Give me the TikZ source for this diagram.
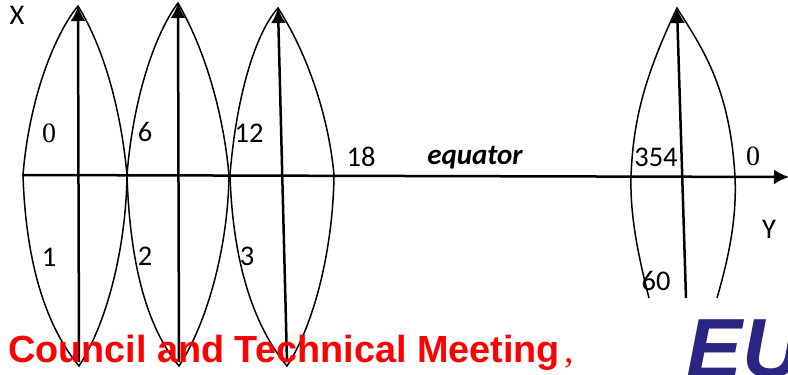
\documentclass[tikz,border=0pt]{standalone}
\usepackage{fontspec}
\setmainfont{Carlito}
\newfontfamily\serifdigits{Liberation Serif}
\newfontfamily\headfont{Liberation Sans}
\usetikzlibrary{arrows.meta}
\definecolor{meetingred}{RGB}{255,0,0}
\definecolor{logoblue}{RGB}{44,36,130}

\begin{document}
\begin{tikzpicture}[x=1pt,y=-1pt,
zone/.style={black,line width=1.5pt},
axis/.style={black,line width=2.5pt,-{Latex[length=15pt,width=15pt]}},
label/.style={inner sep=0pt,font=\fontsize{28.5}{28.5}\selectfont},
meeting/.style={inner sep=0pt,anchor=base west,text=meetingred,font=\headfont\bfseries\fontsize{37.8}{37.8}\selectfont}]
\useasboundingbox (0,0) rectangle (788,375);
% zones along the equator
\foreach \n/\xl/\xt/\yt/\xr/\xb/\yb in {a/23/78/6/127/79/366,b/127/178/3/229/179/366,c/230/278/8/334/287/366}{
  \coordinate (left\n) at (\xl,175);
  \coordinate (right\n) at (\xr,175);
  \coordinate (top\n) at (\xt,\yt);
  \coordinate (bottom\n) at (\xb,\yb);
  \coordinate (foot\n) at (\xb,\yb-4);
  \draw[zone] (left\n) .. controls (\xl+6,100) and (\xt-24,35) .. (top\n)
    .. controls (\xt+26,48) and (\xr-6,110) .. (right\n)
    .. controls (\xr-1,250) and (\xb+27,325) .. (bottom\n)
    .. controls (\xb-30,330) and (\xl+3,270) .. (left\n);
  \draw[axis] (foot\n) -- (top\n);
}
% last zone, cut off below
\coordinate (leftd) at (631,177);
\coordinate (rightd) at (735,177);
\coordinate (topd) at (677,8);
\coordinate (axisd) at (686,298);
\coordinate (footl) at (649,298);
\coordinate (footr) at (717,298);
\draw[zone] (footl) .. controls (638,255) and (630,215) .. (leftd)
  .. controls (633,120) and (645,75) .. (topd)
  .. controls (700,45) and (730,85) .. (rightd)
  .. controls (737,220) and (728,260) .. (footr);
\draw[axis] (axisd) -- (topd);
% equator
\coordinate (eqstart) at (22,175);
\coordinate (eqend) at (789,177);
\draw[axis] (eqstart) -- (eqend);
\node[label] (xlabel) at (17,15) {X};
\node[label] (ylabel) at (769,229) {Y};
\node[label,font=\serifdigits\fontsize{28}{28}\selectfont] (zeroa) at (49,133) {0};
\node[label] (six) at (145,132) {6};
\node[label] (twelve) at (249,133) {12};
\node[label] (eighteen) at (361,157) {18};
\node[label,font=\bfseries\itshape\fontsize{29}{29}\selectfont] (equator) at (475,158) {equator};
\node[label] (threefour) at (656,157) {354};
\node[label,font=\serifdigits\fontsize{28}{28}\selectfont] (zerob) at (753,156) {0};
\node[label] (one) at (49,257) {1};
\node[label] (two) at (145,256) {2};
\node[label] (three) at (247,256) {3};
\node[label] (sixty) at (656,281) {60};
\node[meeting] (council) at (8,362) {Council and Technical Meeting\hspace{5pt}{\serifdigits\mdseries,}};
\clip (0,0) rectangle (788,375);
\node[inner sep=0pt,anchor=base west,text=logoblue,font=\headfont\bfseries\itshape\fontsize{84}{84}\selectfont] (logo) at (686,377) {EU};
\end{tikzpicture}
\end{document}
